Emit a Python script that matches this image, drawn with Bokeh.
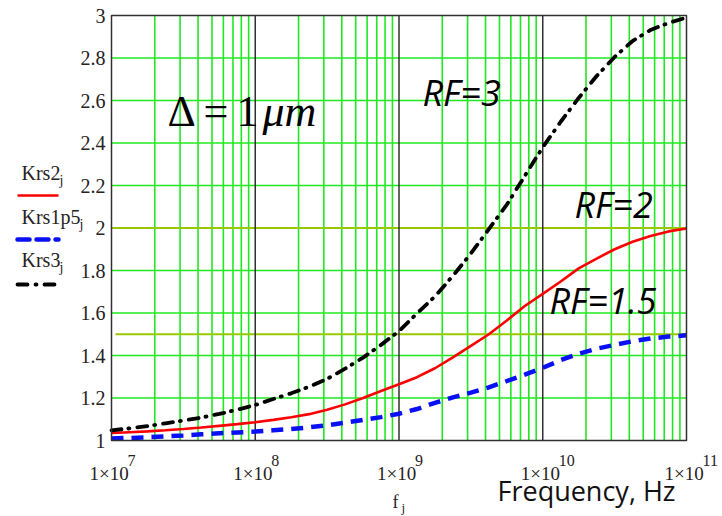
from bokeh.plotting import figure
from bokeh.models import (Range1d, FixedTicker, Label, LinearAxis, LogAxis, Grid)
from bokeh.embed import file_html
from bokeh.resources import INLINE

# Sample frequencies (log10 of Hz), eighth-decade steps from 10 MHz to 100 GHz
log_freq = [7.0, 7.125, 7.25, 7.375, 7.5, 7.625, 7.75, 7.875,
            8.0, 8.125, 8.25, 8.375, 8.5, 8.625, 8.75, 8.875,
            9.0, 9.125, 9.25, 9.375, 9.5, 9.625, 9.75, 9.875,
            10.0, 10.125, 10.25, 10.375, 10.5, 10.625, 10.75, 10.875, 11.0]
freq = [10 ** v for v in log_freq]

# Roughness correction factors for roughness factor RF = 2, 1.5 and 3
krs2 = [1.035, 1.039, 1.043, 1.048, 1.054, 1.061, 1.069, 1.077,
        1.086, 1.097, 1.109, 1.124, 1.145, 1.170, 1.200, 1.233,
        1.265, 1.298, 1.340, 1.391, 1.445, 1.500, 1.565, 1.633,
        1.690, 1.748, 1.810, 1.856, 1.900, 1.935, 1.962, 1.984, 1.998]
krs1p5 = [1.010, 1.012, 1.015, 1.019, 1.024, 1.029, 1.034, 1.038,
          1.042, 1.048, 1.054, 1.062, 1.072, 1.084, 1.097, 1.110,
          1.126, 1.148, 1.177, 1.203, 1.225, 1.250, 1.280, 1.310,
          1.342, 1.378, 1.408, 1.432, 1.450, 1.467, 1.480, 1.489, 1.495]
krs3 = [1.048, 1.057, 1.068, 1.081, 1.094, 1.108, 1.125, 1.145,
        1.167, 1.195, 1.222, 1.253, 1.290, 1.338, 1.390, 1.450,
        1.515, 1.598, 1.678, 1.775, 1.880, 1.995, 2.110, 2.245,
        2.380, 2.500, 2.612, 2.715, 2.805, 2.880, 2.932, 2.965, 2.990]

y_ticks = [1.0, 1.2, 1.4, 1.6, 1.8, 2.0, 2.2, 2.4, 2.6, 2.8, 3.0]
decade_exp = [7, 8, 9, 10, 11]
decade_freq = [1e7, 1e8, 1e9, 1e10, 1e11]
legend_names = ["Krs2", "Krs1p5", "Krs3"]

SERIF = "Liberation Serif"
SANS = "Open Sans"
INK = "#262222"
GREEN = "#20e820"
OLIVE = "#99c800"

W, H = 722, 516
# pixel box of the data area inside the page
FL, FR, FT, FB = 111, 686, 15, 440
DEC = (FR - FL) / 4.0


def sx(px):
    return 10 ** (7 + (px - FL) / DEC)


def sy(py):
    return 1 + (FB - py) / ((FB - FT) / 2.0)


p = figure(width=W, height=H, x_axis_type="log",
           x_range=Range1d(sx(0), sx(W)), y_range=Range1d(sy(H), sy(0)),
           x_axis_location=None, y_axis_location=None,
           output_backend="svg", toolbar_location=None,
           min_border=0)
p.center = [r for r in p.center if not isinstance(r, Grid)]
p.background_fill_color = "white"
p.border_fill_color = "white"
p.outline_line_color = None

# y axis pinned to the left edge of the data area
ya = LinearAxis(fixed_location=1e7, ticker=FixedTicker(ticks=y_ticks),
                bounds=(1, 3))
ya.major_tick_line_color = None
ya.minor_tick_line_color = None
ya.axis_line_color = None
ya.major_label_standoff = 0
ya.major_label_text_font = SERIF
ya.major_label_text_font_size = "20px"
ya.major_label_text_color = INK
ya.major_label_overrides = {1.0: "1", 2.0: "2", 3.0: "3"}
p.add_layout(ya, "left")

# x axis pinned to the bottom edge of the data area
xa = LogAxis(fixed_location=1.0, ticker=FixedTicker(ticks=decade_freq),
             bounds=(1e7, 1e11))
xa.major_tick_line_color = None
xa.minor_tick_line_color = None
xa.axis_line_color = None
xa.major_label_standoff = 16
xa.major_label_text_font = SERIF
xa.major_label_text_font_size = "19px"
xa.major_label_text_color = INK
xa.major_label_overrides = {f: "1×10\u00a0" for f in decade_freq}
p.add_layout(xa, "below")

# green grid: 2..9 within each decade, every 0.2 vertically
minor_f = [m * 10 ** d for d in range(7, 11) for m in range(2, 10)]
p.segment(x0=minor_f, y0=[1] * len(minor_f), x1=minor_f, y1=[3] * len(minor_f),
          line_color=GREEN, line_width=1.6)
hy = y_ticks[1:-1]
p.segment(x0=[1e7] * len(hy), y0=hy, x1=[1e11] * len(hy), y1=hy,
          line_color=GREEN, line_width=1.6)
# reference levels
p.segment(x0=[1e7, sx(115)], y0=[2.0, 1.5], x1=[1e11, 1e11], y1=[2.0, 1.5],
          line_color=OLIVE, line_width=2)
# decade lines
p.segment(x0=decade_freq[1:-1], y0=[1] * 3, x1=decade_freq[1:-1], y1=[3] * 3,
          line_color="#303030", line_width=1.5)

# curves
p.line(freq, krs2, line_color="#ff0000", line_width=2.6)
p.line(freq, krs1p5, line_color="#0a10f5", line_width=4.5, line_dash="12 8")
p.line(freq, krs3, line_color="#000000", line_width=3.8, line_dash="10 7 1 8",
       line_cap="round")

# frame
p.quad(left=[1e7], right=[1e11], bottom=[1], top=[3], fill_color=None,
       line_color="#303030", line_width=1.5)


def label(px, base, text, font=SERIF, size=19, style="normal", color=INK,
          align="left"):
    # Label anchors near the middle of the text, so lift it to sit on `base`
    p.add_layout(Label(x=sx(px), y=sy(base - 0.36 * size), text=text,
                       text_font=font, text_font_size=f"{size}px",
                       text_font_style=style, text_color=color,
                       text_align=align, text_baseline="alphabetic"))


# exponents of the x tick labels
for f, e in zip(decade_freq, decade_exp):
    p.add_layout(Label(x=f, y=sy(466 - 0.36 * 16), x_offset=16, text=str(e),
                       text_font=SERIF, text_font_size="16px", text_color=INK,
                       text_baseline="alphabetic"))

# x axis titles
label(392, 508, "f", size=18)
label(401, 512, "j", size=13)
label(497, 500, "Frequency, Hz", font=SANS, size=27, color="#111111")

# legend
legend_rows = [
    (180, 195, "#ff0000", 2.6, "solid", 38),
    (224, 239, "#0a10f5", 4.5, "12 7", 58),
    (267, 284, "#000000", 3.8, "10 8 1 8", 38),
]
for name, (base, ly, col, lw, dash, wpx) in zip(legend_names, legend_rows):
    label(21, base, name, size=20)
    label(21 + wpx, base + 5, "j", size=14)
    p.line([sx(17), sx(58)], [sy(ly), sy(ly)], line_color=col, line_width=lw,
           line_dash=dash, line_cap="round" if dash != "solid" else "butt")

# annotations inside the plot
label(167, 127, "Δ", size=44, color="#000000")
label(203, 127, "=", size=44, color="#000000")
label(236, 127, "1", size=44, color="#000000")
label(262, 127, "μm", size=44, style="italic", color="#000000")
label(422, 105, "RF=3", font=SANS, size=36, style="italic", color="#000000")
label(574, 217, "RF=2", font=SANS, size=36, style="italic", color="#000000")
label(549, 313, "RF=1.5", font=SANS, size=36, style="italic", color="#000000")

open("out.html", "w").write(file_html(p, INLINE))
